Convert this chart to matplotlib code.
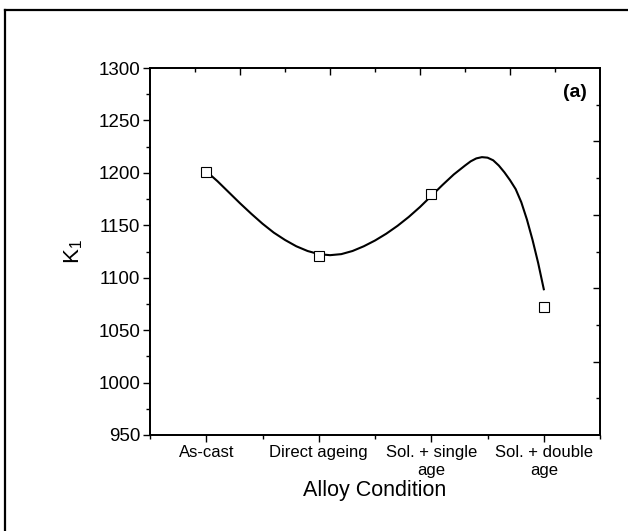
#!/usr/bin/env python

import matplotlib
matplotlib.use('Agg')
import matplotlib.pyplot as plt
from matplotlib.lines import Line2D
from matplotlib.ticker import MultipleLocator, NullFormatter

# measured points
conditions = ['As-cast', 'Direct ageing', 'Sol. + single\nage', 'Sol. + double\nage']
k1 = [1201, 1121, 1180, 1072]

# smooth fitted curve
curve_x = [1.00, 1.10, 1.20, 1.30, 1.40, 1.50, 1.60, 1.70, 1.80, 1.90, 2.00,
           2.10, 2.20, 2.30, 2.40, 2.50, 2.60, 2.70, 2.80, 2.90, 3.00, 3.10,
           3.20, 3.30, 3.35, 3.40, 3.45, 3.50, 3.55, 3.60, 3.65, 3.70, 3.75,
           3.80, 3.85, 3.90, 3.95, 4.00]
curve_y = [1201.5, 1192, 1181.5, 1171, 1161, 1151.5, 1143, 1136, 1130, 1125.5,
           1122.5, 1121.5, 1122.5, 1125.5, 1130, 1135.5, 1142, 1149.5, 1158,
           1167.5, 1178, 1188.5, 1198.5, 1207, 1211, 1213.8, 1215, 1214.5,
           1212, 1207, 1200.5, 1193, 1184.5, 1172, 1155.5, 1136, 1114, 1089]


def main():
    plt.rcParams['font.family'] = ['Liberation Sans', 'DejaVu Sans']

    fig = plt.figure(figsize=(6.28, 5.31), dpi=100)
    ax = fig.add_axes([0.2389, 0.1808, 0.7166, 0.6911])

    x = list(range(1, len(conditions) + 1))
    ax.plot(curve_x, curve_y, color='black', lw=1.5, zorder=2,
            solid_joinstyle='round')
    ax.plot(x, k1, linestyle='none', marker='s', markersize=6.5,
            markerfacecolor='white', markeredgecolor='black',
            markeredgewidth=0.8, zorder=3)

    ax.set_xlim(0.5, 4.5)
    ax.set_ylim(950, 1300)
    ax.set_xticks(x)
    ax.set_xticklabels(conditions, fontsize=12, linespacing=1.25)
    ax.xaxis.set_minor_locator(MultipleLocator(0.5))
    ax.yaxis.set_major_locator(MultipleLocator(50))
    ax.yaxis.set_minor_locator(MultipleLocator(25))
    ax.tick_params(axis='y', labelsize=13.5)
    ax.tick_params(which='major', direction='out', length=5, width=1, pad=2)
    ax.tick_params(which='minor', direction='out', length=3, width=1)
    ax.tick_params(top=False, right=False, which='both')

    for s in ax.spines.values():
        s.set_linewidth(1.1)

    ax.set_xlabel('Alloy Condition', fontsize=15.5, labelpad=2)
    ax.set_ylabel(r'K$_\mathregular{1}$', fontsize=16, labelpad=10)
    ax.text(0.944, 0.932, '(a)', transform=ax.transAxes, fontsize=14,
            fontweight='bold', ha='center', va='center')

    # top axis with its own tick set
    axt = ax.twiny()
    axt.set_xlim(ax.get_xlim())
    axt.set_xticks([1.3, 2.1, 2.9, 3.7])
    axt.set_xticks([0.9, 1.7, 2.5, 3.3, 4.1], minor=True)
    axt.xaxis.set_major_formatter(NullFormatter())
    axt.tick_params(which='major', direction='in', length=5, width=1)
    axt.tick_params(which='minor', direction='in', length=3, width=1)

    # right axis with its own tick set
    axr = ax.twinx()
    axr.set_ylim(ax.get_ylim())
    axr.set_yticks([1230, 1160, 1090, 1020])
    axr.set_yticks([1265, 1195, 1125, 1055, 985], minor=True)
    axr.yaxis.set_major_formatter(NullFormatter())
    axr.tick_params(which='major', direction='in', length=5, width=1)
    axr.tick_params(which='minor', direction='in', length=3, width=1)
    for a in (axt, axr):
        for s in a.spines.values():
            s.set_linewidth(1.1)

    # outer frame (left and top edges only visible)
    x0 = 4.5 / 628
    ytop = 1 - 9.5 / 531
    fig.add_artist(Line2D([x0, x0], [0, ytop], color='black', lw=1.6))
    fig.add_artist(Line2D([x0, 1], [ytop, ytop], color='black', lw=1.6))

    fig.savefig('out.png', dpi=100)


if __name__ == '__main__':
    main()
